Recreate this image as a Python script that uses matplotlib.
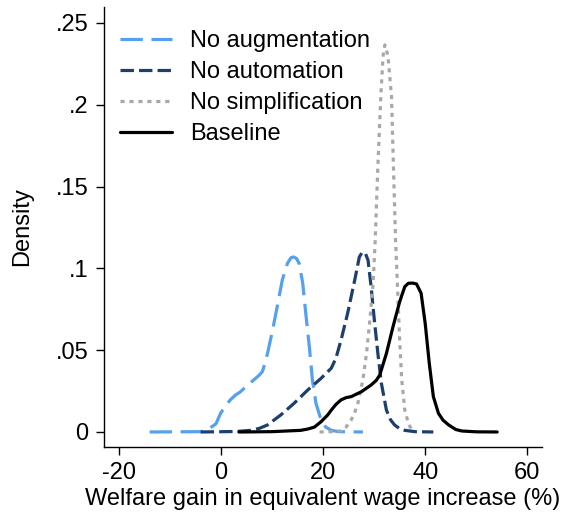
import matplotlib
matplotlib.use("Agg")
import matplotlib.pyplot as plt

plt.rcParams['font.family'] = ['Liberation Sans', 'DejaVu Sans']
plt.rcParams['axes.unicode_minus'] = False

# kernel density curves, welfare gain (%) vs density
aug_x = [-14.0, -4.0, -2.8, -1.0, -0.1, 1.0, 1.8, 2.8, 3.8, 5.0, 6.4, 7.4, 8.1, 8.6, 9.1,
         10.1, 11.0, 12.0, 13.0, 13.7, 14.2, 14.8, 15.3, 16.0, 16.6, 17.3, 17.9, 18.6, 19.6,
         20.5, 21.6, 23.0, 27.8]
aug_y = [0.0, 0.0002, 0.001, 0.005, 0.0114, 0.0165, 0.0196, 0.0225, 0.0246, 0.028, 0.0318,
         0.0345, 0.0369, 0.042, 0.048, 0.0623, 0.0766, 0.0929, 0.103, 0.1065, 0.107, 0.106,
         0.103, 0.091, 0.0725, 0.052, 0.0318, 0.0175, 0.0073, 0.003, 0.001, 0.0002, 0.0]

auto_x = [-4.0, 3.0, 5.8, 7.5, 9.1, 11.7, 14.3, 17.0, 19.6, 21.6, 22.5, 23.5, 24.8, 26.2,
          27.1, 27.6, 27.9, 28.3, 28.8, 29.4, 30.1, 30.8, 31.4, 32.4, 33.2, 34.0, 35.0,
          36.0, 38.0, 41.6]
auto_y = [0.0, 0.0003, 0.001, 0.0022, 0.0043, 0.0104, 0.0175, 0.0257, 0.0328, 0.039, 0.045,
          0.056, 0.0725, 0.093, 0.107, 0.1095, 0.110, 0.109, 0.105, 0.0888, 0.0664, 0.046,
          0.030, 0.0134, 0.0075, 0.0043, 0.002, 0.001, 0.0002, 0.0]

simp_x = [19.3, 22.0, 23.5, 24.5, 25.5, 26.2, 26.8, 27.8, 28.5, 29.1, 29.8, 30.2, 30.7,
          31.3, 31.75, 32.1, 32.7, 33.4, 33.8, 34.2, 34.6, 35.0, 35.4, 36.0, 36.8, 37.7]
simp_y = [0.0, 0.0002, 0.0007, 0.003, 0.0073, 0.012, 0.0175, 0.032, 0.048, 0.0664, 0.091,
          0.117, 0.16, 0.205, 0.23, 0.2366, 0.23, 0.205, 0.16, 0.117, 0.0868, 0.056, 0.032,
          0.0134, 0.0043, 0.0]

base_x = [3.5, 10.0, 15.6, 17.0, 18.3, 19.6, 20.9, 21.6, 22.5, 23.5, 24.5, 25.5, 27.5, 29.4,
          30.4, 31.1, 32.4, 33.7, 35.0, 36.0, 36.7, 37.5, 38.3, 39.2, 40.0, 40.8, 41.6, 42.6,
          43.5, 44.6, 46.0, 47.2, 50.0, 54.1]
base_y = [0.0, 0.0002, 0.001, 0.0018, 0.003, 0.0063, 0.0104, 0.0134, 0.0168, 0.0196, 0.021,
          0.0216, 0.0246, 0.0287, 0.0315, 0.0348, 0.048, 0.0644, 0.0796, 0.0888, 0.0909,
          0.091, 0.0905, 0.0848, 0.0664, 0.042, 0.0216, 0.0114, 0.0072, 0.0043, 0.0015,
          0.0006, 0.0001, 0.0]

series = [
    ("No augmentation", aug_x, aug_y, "#55a0f0", (7, 2.7), "butt"),
    ("No automation", auto_x, auto_y, "#1c3f6e", (4.2, 1.6), "butt"),
    ("No simplification", simp_x, simp_y, "#a8a8a8", (1.3, 1.5), "butt"),
    ("Baseline", base_x, base_y, "black", None, "round"),
]

xticks = [-20, 0, 20, 40, 60]
yticks = [0, 0.05, 0.1, 0.15, 0.2, 0.25]
ytick_labels = ["0", ".05", ".1", ".15", ".2", ".25"]

fig = plt.figure(figsize=(5.62, 5.15), dpi=100)
ax = fig.add_axes([0.1845, 0.1326, 0.78, 0.854])

for label, xs, ys, color, dashes, cap in series:
    line, = ax.plot(xs, ys, color=color, lw=2.3, label=label, solid_capstyle=cap,
                    solid_joinstyle="round")
    if dashes is not None:
        line.set_dashes(dashes)
        line.set_dash_capstyle("butt")

ax.set_xlim(-23, 62.9)
ax.set_ylim(-0.009, 0.2598)
ax.set_xticks(xticks)
ax.set_yticks(yticks)
ax.set_yticklabels(ytick_labels)
ax.tick_params(labelsize=17, length=6, width=1, pad=5, color="black")
for side in ["top", "right"]:
    ax.spines[side].set_visible(False)
for side in ["left", "bottom"]:
    ax.spines[side].set_linewidth(1)

ax.set_xlabel("Welfare gain in equivalent wage increase (%)", fontsize=17, labelpad=3)
ax.set_ylabel("Density", fontsize=17, labelpad=16)

ax.legend(loc="upper left", bbox_to_anchor=(0.005, 0.98), frameon=False, fontsize=17,
          handlelength=2.2, handletextpad=0.75, labelspacing=0.39, borderaxespad=0.2)

fig.savefig("out.png", dpi=100)
